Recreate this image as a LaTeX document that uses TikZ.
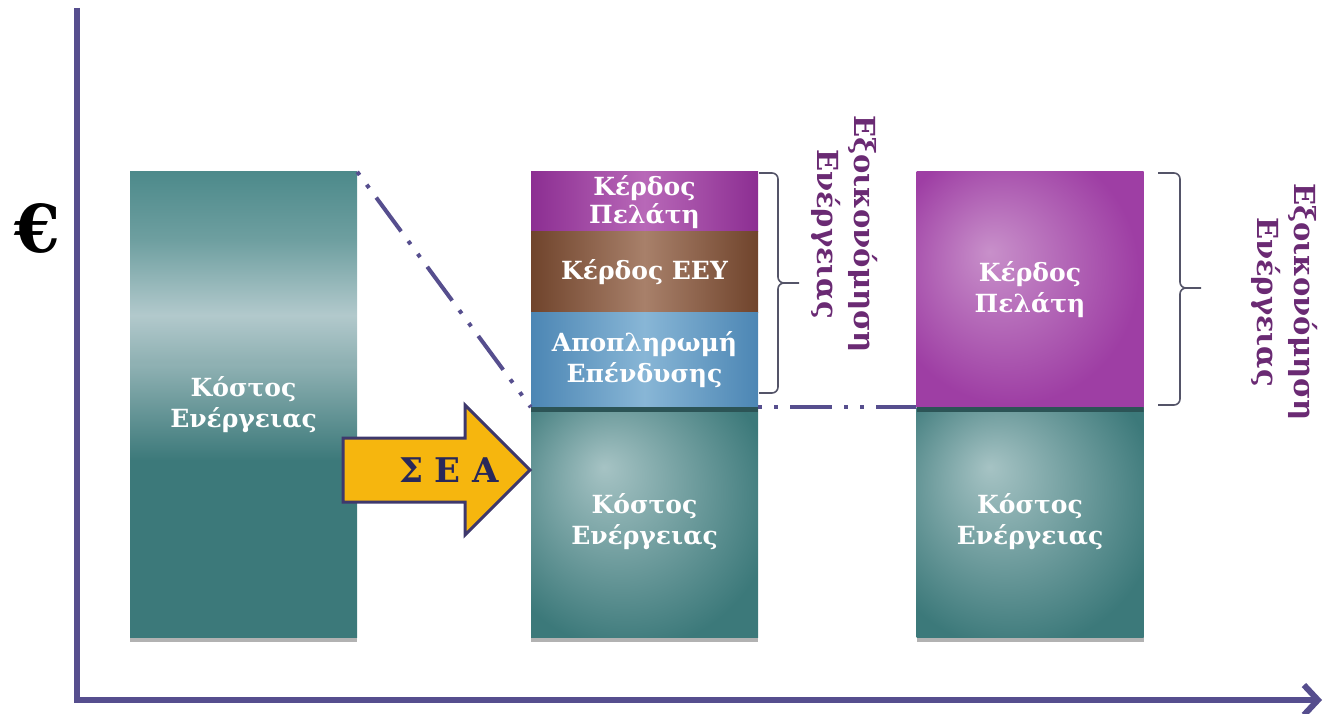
\documentclass[tikz,border=0pt]{standalone}
\usepackage{fontspec}
\setmainfont{DejaVu Serif}
\usepackage{tikz}
\usetikzlibrary{arrows.meta}
\usetikzlibrary{calc}
\usetikzlibrary{shadows}

\definecolor{axiscol}{RGB}{86,78,142}
\definecolor{tealdark}{RGB}{60,121,122}
\definecolor{tealtop}{RGB}{77,138,139}
\definecolor{tealupper}{RGB}{110,159,160}
\definecolor{teallight}{RGB}{178,201,204}
\definecolor{tealstep}{RGB}{143,177,179}
\definecolor{tealspotc}{RGB}{166,195,196}
\definecolor{tealedge}{RGB}{44,84,86}
\definecolor{purpedge}{RGB}{140,46,146}
\definecolor{purplight}{RGB}{184,104,184}
\definecolor{purpspot}{RGB}{200,144,202}
\definecolor{purpout}{RGB}{158,62,164}
\definecolor{brownedge}{RGB}{112,68,44}
\definecolor{brownlight}{RGB}{168,128,106}
\definecolor{blueedge}{RGB}{76,134,180}
\definecolor{bluelight}{RGB}{136,182,214}
\definecolor{seafill}{RGB}{246,182,14}
\definecolor{seaedge}{RGB}{62,56,108}
\definecolor{seatext}{RGB}{40,40,90}
\definecolor{savecol}{RGB}{106,42,115}
\definecolor{bracecol}{RGB}{84,84,104}

\pgfdeclareverticalshading{costfade}{100bp}{color(0bp)=(tealdark); color(25bp)=(tealdark); color(44bp)=(tealdark); color(54.3bp)=(tealstep); color(54.6bp)=(tealstep); color(59.6bp)=(teallight); color(67.7bp)=(tealupper); color(75bp)=(tealtop); color(100bp)=(tealtop)}
\pgfdeclareradialshading{tealspot}{\pgfpoint{-9bp}{12bp}}{color(0bp)=(tealspotc); color(32bp)=(tealdark); color(50bp)=(tealdark)}
\pgfdeclareradialshading{purpspotshade}{\pgfpoint{-9bp}{8bp}}{color(0bp)=(purpspot); color(28bp)=(purpout); color(50bp)=(purpout)}

\newcommand{\barfont}{\fontsize{25}{31}\selectfont\bfseries}
\newcommand{\savefont}{\fontsize{29}{37}\selectfont\bfseries}

\begin{document}
\begin{tikzpicture}[x=1pt, y=-1pt,
        bar_style/.style={rectangle, minimum width=227pt, inner sep=0pt, text=white, align=center, font=\barfont},
        cost_style/.style={bar_style, shading=tealspot,
            path picture={\fill[tealedge] (path picture bounding box.north west) rectangle ([yshift=-5pt]path picture bounding box.north east);},
            drop shadow={shadow xshift=0pt, shadow yshift=-5pt, opacity=0.5, fill=black!60}},
        edge_style/.style={draw=axiscol, line width=4pt, dash pattern=on 4pt off 12pt on 4pt off 12pt on 42pt off 12pt},
        brace_style/.style={draw=bracecol, line width=1.6pt, rounded corners=6pt},
        save_style/.style={text=savecol, align=center, font=\savefont, rotate=-90}]

        \useasboundingbox (0,0) rectangle (1326,714);

        \draw[axiscol, line width=6pt, line join=miter, -{Straight Barb[length=14pt, width=30pt]}] (77,8) -- (77,700) -- (1322,700);

        \node[font=\fontsize{66}{66}\selectfont\bfseries] (euro) at (37,228) {€};

        \node[bar_style, minimum height=465pt, shading=costfade, drop shadow={shadow xshift=0pt, shadow yshift=-5pt, opacity=0.5, fill=black!60}] (c1) at (243.5,404.5) {Κόστος\\Ενέργειας};

        \node[bar_style, minimum height=60pt, left color=purpedge, right color=purpedge, middle color=purplight, font=\fontsize{25}{28}\selectfont\bfseries] (k2) at (644.5,202) {Κέρδος\\Πελάτη};
        \node[bar_style, minimum height=80pt, left color=brownedge, right color=brownedge, middle color=brownlight] (e2) at (644.5,272) {Κέρδος ΕΕΥ};
        \node[bar_style, minimum height=95pt, left color=blueedge, right color=blueedge, middle color=bluelight] (a2) at (644.5,359.5) {Αποπληρωμή\\Επένδυσης};
        \node[cost_style, minimum height=230pt] (c2) at (644.5,522) {Κόστος\\Ενέργειας};

        \node[bar_style, minimum height=235pt, shading=purpspotshade] (k3) at (1030,289.5) {Κέρδος\\Πελάτη};
        \node[cost_style, minimum height=230pt] (c3) at (1030,522) {Κόστος\\Ενέργειας};

        \draw[fill=seafill, draw=seaedge, line width=3pt, line join=miter] (343,438) -- (465,438) -- (465,405) -- (530,470) -- (465,535) -- (465,502) -- (343,502) -- cycle;
        \node[text=seatext, font=\fontsize{34}{34}\selectfont\bfseries] (sea) at (449,470) {Σ Ε Α};

        \draw[edge_style] (c1.north east) -- (a2.south west);
        \draw[edge_style] (a2.south east) -- (k3.south west);

        \coordinate (b2top) at (759,173);
        \coordinate (b2mid) at (778,283);
        \coordinate (b2tip) at (799,283);
        \coordinate (b2bot) at (759,393);
        \coordinate (b3top) at (1158,173);
        \coordinate (b3mid) at (1180,288);
        \coordinate (b3tip) at (1201,288);
        \coordinate (b3bot) at (1158,405);
        \draw[brace_style] (b2top) -| (b2mid) -- (b2tip) (b2bot) -| (b2mid) -- (b2tip);
        \draw[brace_style] (b3top) -| (b3mid) -- (b3tip) (b3bot) -| (b3mid) -- (b3tip);

        \node[save_style] (save2) at (845,234) {Εξοικονόμηση\\Ενέργειας};
        \node[save_style] (save3) at (1285,302) {Εξοικονόμηση\\Ενέργειας};

        \end{tikzpicture}
\end{document}
